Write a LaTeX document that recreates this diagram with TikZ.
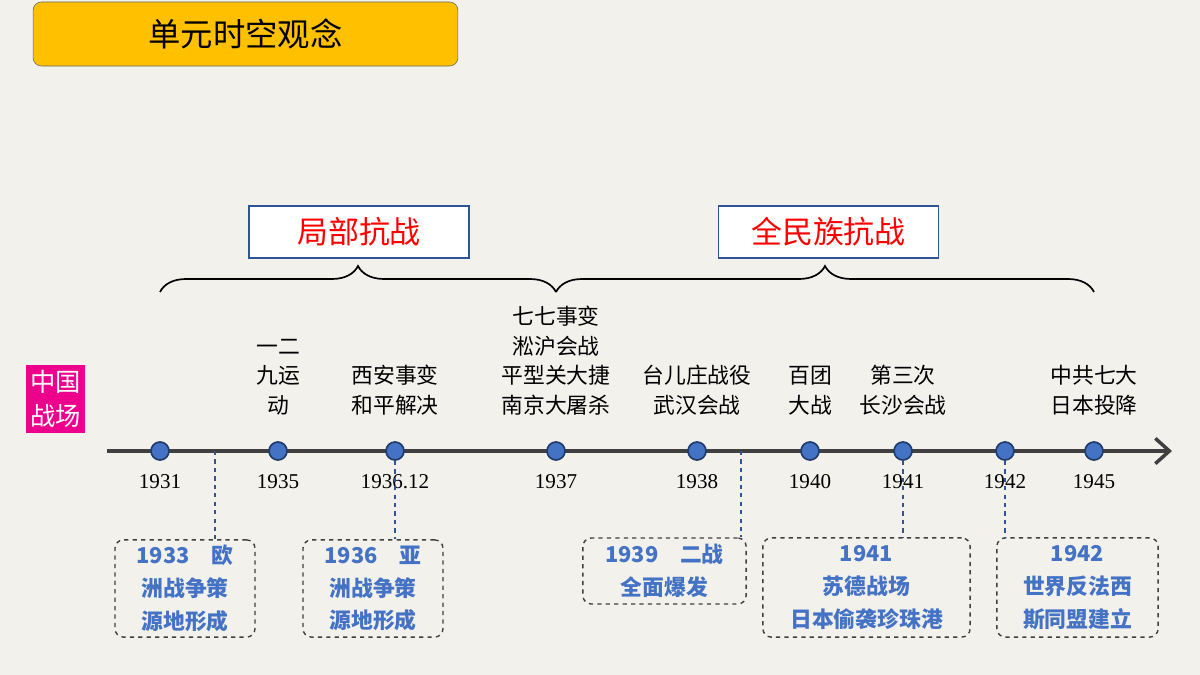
\documentclass[tikz,border=0pt]{standalone}
\usepackage{fontspec}
\setmainfont{Noto Sans CJK SC}
\newfontfamily\yearfont{Liberation Serif}
\usetikzlibrary{decorations.pathreplacing,arrows.meta}
\definecolor{bgc}{HTML}{F3F1EC}
\definecolor{dotblue}{HTML}{4472C4}
\definecolor{framec}{HTML}{2F5597}
\definecolor{txtblue}{HTML}{4472C4}
\definecolor{titlec}{HTML}{FFC000}
\begin{document}
\begin{tikzpicture}[x=0.025cm,y=-0.025cm]

      \tikzset{dot/.style={draw=framec!70!black, circle, inner sep=0pt, minimum size=0.45cm, fill=dotblue, line width=1.2pt},
               yearlbl/.style={font=\yearfont\fontsize{15}{17}\selectfont},
               event/.style={align=center, font=\fontsize{15.5}{21}\selectfont},
               period/.style={draw=framec, line width=1pt, fill=white, text=red, minimum width=5.5cm, minimum height=1.3cm, font=\fontsize{22}{26}\selectfont},
               note/.style={draw=black!75, dashed, rounded corners=6pt, line width=1pt, align=center, text=txtblue, font=\bfseries\fontsize{15.5}{23.4}\selectfont},
               link/.style={draw=framec, dashed, line width=1.2pt}}
%% Background
      \fill[bgc] (0,0) rectangle (1200,675);
      \node[draw=black!60, fill=titlec, rounded corners=6pt, minimum width=10.62cm, minimum height=1.6cm, font=\fontsize{23}{26}\selectfont] (title) at (245.5,34) {单元时空观念};
%% Axis
      \coordinate (start) at (107,451);
      \coordinate (end) at (1172,451);
      \draw[line width=2.5pt, black!75, -{Straight Barb[length=10pt,width=18pt]}] (start) -- (end);
%% Vertices
      \node[dot, label={[yearlbl, yshift=-6pt]below:1931}] (y31) at (160,451) {};
      \node[dot, label={[yearlbl, yshift=-6pt]below:1935}] (y35) at (278,451) {};
      \node[dot, label={[yearlbl, yshift=-6pt]below:1936.12}] (y36) at (395,451) {};
      \node[dot, label={[yearlbl, yshift=-6pt]below:1937}] (y37) at (556,451) {};
      \node[dot, label={[yearlbl, yshift=-6pt]below:1938}] (y38) at (697,451) {};
      \node[dot, label={[yearlbl, yshift=-6pt]below:1940}] (y40) at (810,451) {};
      \node[dot, label={[yearlbl, yshift=-6pt]below:1941}] (y41) at (903,451) {};
      \node[dot, label={[yearlbl, yshift=-6pt]below:1942}] (y42) at (1005,451) {};
      \node[dot, label={[yearlbl, yshift=-6pt]below:1945}] (y45) at (1094,451) {};
%% Events
      \node[event, anchor=south] (e35) at (278,420) {一二\\九运\\动};
      \node[event, anchor=south] (e36) at (395,420) {西安事变\\和平解决};
      \node[event, anchor=south] (e37) at (556,420) {七七事变\\淞沪会战\\平型关大捷\\南京大屠杀};
      \node[event, anchor=south] (e38) at (697,420) {台儿庄战役\\武汉会战};
      \node[event, anchor=south] (e40) at (810,420) {百团\\大战};
      \node[event, anchor=south] (e41) at (903,420) {第三次\\长沙会战};
      \node[event, anchor=south] (e45) at (1094,420) {中共七大\\日本投降};
      \node[fill=magenta, text=white, align=center, inner sep=1pt, minimum width=1.48cm, minimum height=1.7cm, font=\fontsize{18}{24}\selectfont] (cn) at (55.5,399) {中国\\战场};
%% Periods
      \coordinate (b1) at (160,292);
      \coordinate (b2) at (556,292);
      \coordinate (b3) at (1094,292);
      \draw[line width=1.2pt, decorate, decoration={brace, amplitude=0.65cm}] (b1) -- (b2);
      \draw[line width=1.2pt, decorate, decoration={brace, amplitude=0.65cm}] (b2) -- (b3);
      \node[period] (local) at (359,232) {局部抗战};
      \node[period] (whole) at (828.5,232) {全民族抗战};
%% World
      \node[note, minimum width=3.5cm, minimum height=2.43cm] (w33) at (185,588.5) {1933\quad 欧\\洲战争策\\源地形成};
      \node[note, minimum width=3.5cm, minimum height=2.43cm] (w36) at (373,588.5) {1936\quad 亚\\洲战争策\\源地形成};
      \node[note, minimum width=4.08cm, minimum height=1.65cm] (w39) at (664.5,571) {1939\quad 二战\\全面爆发};
      \node[note, minimum width=5.18cm, minimum height=2.48cm] (w41) at (866.5,587.5) {1941\\苏德战场\\日本偷袭珍珠港};
      \node[note, minimum width=4.03cm, minimum height=2.48cm] (w42) at (1077.5,587.5) {1942\\世界反法西\\斯同盟建立};
%Edges
      \coordinate (p33) at (215,451);
      \coordinate (p39) at (741,451);
      \draw[link] (p33) -- (p33 |- w33.north);
      \draw[link] (y36) -- (y36 |- w36.north);
      \draw[link] (p39) -- (p39 |- w39.north);
      \draw[link] (y41) -- (y41 |- w41.north);
      \draw[link] (y42) -- (y42 |- w42.north);

\end{tikzpicture}
\end{document}
